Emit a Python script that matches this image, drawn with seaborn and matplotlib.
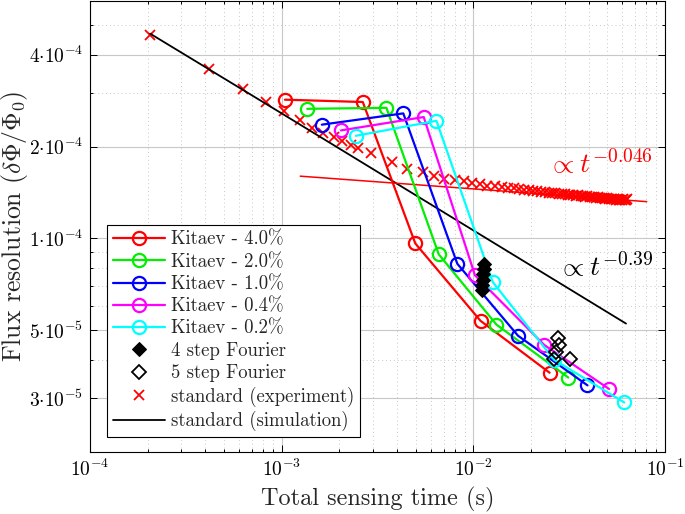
import matplotlib
matplotlib.use('Agg')
import matplotlib.pyplot as plt
import seaborn as sns
from matplotlib.ticker import FixedLocator, LogLocator, NullFormatter

# Kitaev runs: total sensing time (s) vs flux resolution
t_k40 = [1.04e-3, 2.65e-3, 4.98e-3, 1.09e-2, 2.50e-2]
f_k40 = [2.85e-4, 2.80e-4, 9.63e-5, 5.37e-5, 3.63e-5]
t_k20 = [1.36e-3, 3.52e-3, 6.60e-3, 1.32e-2, 3.13e-2]
f_k20 = [2.66e-4, 2.68e-4, 8.87e-5, 5.22e-5, 3.50e-5]
t_k10 = [1.62e-3, 4.31e-3, 8.25e-3, 1.71e-2, 3.94e-2]
f_k10 = [2.36e-4, 2.57e-4, 8.26e-5, 4.80e-5, 3.30e-5]
t_k04 = [2.04e-3, 5.51e-3, 1.02e-2, 2.34e-2, 5.11e-2]
f_k04 = [2.26e-4, 2.50e-4, 7.57e-5, 4.48e-5, 3.21e-5]
t_k02 = [2.44e-3, 6.42e-3, 1.26e-2, 2.64e-2, 6.13e-2]
f_k02 = [2.17e-4, 2.43e-4, 7.21e-5, 4.00e-5, 2.90e-5]
kitaev_labels = ['Kitaev - 4.0%', 'Kitaev - 2.0%', 'Kitaev - 1.0%',
                 'Kitaev - 0.4%', 'Kitaev - 0.2%']
kitaev_colors = ['#ff0000', '#00ee00', '#0000ff', '#ff00ff', '#00ffff']

# Fourier methods
t_four4 = [1.13e-2, 1.13e-2, 1.12e-2, 1.12e-2, 1.11e-2, 1.11e-2]
f_four4 = [8.26e-5, 7.95e-5, 7.66e-5, 7.32e-5, 7.05e-5, 6.79e-5]
t_four5 = [2.77e-2, 2.80e-2, 2.70e-2, 2.64e-2, 3.19e-2]
f_four5 = [4.72e-5, 4.48e-5, 4.25e-5, 4.03e-5, 4.03e-5]

# standard method, experiment
t_exp = [2.06e-4, 4.18e-4, 6.26e-4, 8.25e-4, 1.03e-3, 1.24e-3, 1.44e-3,
         1.65e-3, 1.88e-3, 2.07e-3, 2.29e-3, 2.51e-3, 2.92e-3, 3.75e-3,
         4.52e-3, 5.44e-3, 6.23e-3, 7.06e-3, 8.02e-3,
         0.0089, 0.0098, 0.0108, 0.0118, 0.0130, 0.0141, 0.0152, 0.0163, 0.0174, 0.0184,
         0.0195, 0.0205, 0.0216, 0.0226, 0.0237, 0.0247, 0.0258, 0.0268, 0.0279, 0.0289,
         0.0300, 0.0310, 0.0321, 0.0331, 0.0342, 0.0352, 0.0363, 0.0373, 0.0384, 0.0394,
         0.0405, 0.0415, 0.0426, 0.0436, 0.0447, 0.0457, 0.0468, 0.0478, 0.0489, 0.0499,
         0.0510, 0.0520, 0.0531, 0.0541, 0.0552, 0.0562, 0.0573, 0.0583, 0.0594, 0.0604,
         0.0615, 0.0625, 0.0636]
f_exp = [4.65e-4, 3.60e-4, 3.09e-4, 2.80e-4, 2.61e-4, 2.45e-4, 2.31e-4,
         2.21e-4, 2.15e-4, 2.08e-4, 2.03e-4, 1.98e-4, 1.90e-4, 1.78e-4,
         1.69e-4, 1.65e-4, 1.60e-4, 1.57e-4, 1.55e-4,
         1.54e-4, 1.52e-4, 1.51e-4, 1.49e-4, 1.48e-4, 1.47e-4, 1.46e-4, 1.46e-4, 1.45e-4, 1.44e-4,
         1.44e-4, 1.43e-4, 1.43e-4, 1.42e-4, 1.42e-4, 1.41e-4, 1.41e-4, 1.41e-4, 1.40e-4, 1.40e-4,
         1.40e-4, 1.39e-4, 1.39e-4, 1.39e-4, 1.38e-4, 1.39e-4, 1.38e-4, 1.38e-4, 1.37e-4, 1.38e-4,
         1.37e-4, 1.37e-4, 1.37e-4, 1.36e-4, 1.37e-4, 1.36e-4, 1.36e-4, 1.36e-4, 1.35e-4, 1.36e-4,
         1.35e-4, 1.35e-4, 1.35e-4, 1.35e-4, 1.34e-4, 1.35e-4, 1.34e-4, 1.34e-4, 1.34e-4, 1.35e-4,
         1.34e-4, 1.34e-4, 1.35e-4]

# standard method, simulation and power-law fit to experiment
t_sim = [2.06e-4, 1.0e-3, 6.26e-2]
f_sim = [4.69e-4, 2.57e-4, 5.26e-5]
t_fit = [1.25e-3, 8.03e-2]
f_fit = [1.60e-4, 1.32e-4]

x_ticks = [1e-4, 1e-3, 1e-2, 1e-1]
x_ticklabels = [r'$10^{-4}$', r'$10^{-3}$', r'$10^{-2}$', r'$10^{-1}$']
y_ticks = [3e-5, 5e-5, 1e-4, 2e-4, 4e-4]
y_ticklabels = [r'$3{\cdot}10^{-5}$', r'$5{\cdot}10^{-5}$', r'$1{\cdot}10^{-4}$',
                r'$2{\cdot}10^{-4}$', r'$4{\cdot}10^{-4}$']

sns.set_style('ticks')
plt.rcParams['font.family'] = ['cmr10', 'DejaVu Serif']
plt.rcParams['mathtext.fontset'] = 'cm'
plt.rcParams['axes.unicode_minus'] = False

fig = plt.figure(figsize=(6.85, 5.14), dpi=100)
ax = fig.add_axes([0.1314, 0.1212, 0.8394, 0.8768])

kitaev = [(t_k40, f_k40), (t_k20, f_k20), (t_k10, f_k10), (t_k04, f_k04), (t_k02, f_k02)]
for (t, f), lab, col in zip(kitaev, kitaev_labels, kitaev_colors):
    sns.lineplot(x=t, y=f, ax=ax, color=col, label=lab, sort=False, estimator=None,
                 linewidth=1.6, marker='o', markersize=9.5, markerfacecolor='none',
                 markeredgecolor=col, markeredgewidth=1.6, zorder=3)

sns.lineplot(x=t_four4, y=f_four4, ax=ax, label='4 step Fourier', sort=False,
             estimator=None, linestyle='none', marker='D', markersize=7,
             color='k', markerfacecolor='k', markeredgecolor='k', zorder=4)
sns.lineplot(x=t_four5, y=f_four5, ax=ax, label='5 step Fourier', sort=False,
             estimator=None, linestyle='none', marker='D', markersize=7,
             color='k', markerfacecolor='none', markeredgecolor='k',
             markeredgewidth=1.3, zorder=4)
sns.lineplot(x=t_exp, y=f_exp, ax=ax, label='standard (experiment)', sort=False,
             estimator=None, linestyle='none', marker='x', markersize=7,
             color='#ff0000', markeredgecolor='#ff0000', markeredgewidth=1.3, zorder=2)
sns.lineplot(x=t_sim, y=f_sim, ax=ax, label='standard (simulation)', sort=False,
             estimator=None, color='k', linewidth=1.3, zorder=2)
sns.lineplot(x=t_fit, y=f_fit, ax=ax, sort=False, estimator=None,
             color='#ff0000', linewidth=1.1, zorder=2)

ax.text(0.0245, 1.64e-4, r'$\propto t^{-0.046}$', color='#ff0000', fontsize=20)
ax.text(0.0275, 7.55e-5, r'$\propto t^{-0.39}$', color='k', fontsize=20)

ax.set_xscale('log')
ax.set_yscale('log')
ax.set_xlim(1e-4, 1e-1)
ax.set_ylim(2e-5, 6e-4)

ax.xaxis.set_major_locator(FixedLocator(x_ticks))
ax.set_xticklabels(x_ticklabels)
ax.xaxis.set_minor_locator(LogLocator(base=10, subs=range(2, 10)))
ax.xaxis.set_minor_formatter(NullFormatter())
ax.yaxis.set_major_locator(FixedLocator(y_ticks))
ax.set_yticklabels(y_ticklabels)
ax.yaxis.set_minor_locator(LogLocator(base=10, subs=range(1, 10)))
ax.yaxis.set_minor_formatter(NullFormatter())

ax.tick_params(which='both', direction='in', top=True, right=True,
               labelsize=14, colors='k', width=0.7)
ax.tick_params(which='major', length=5, pad=5)
ax.tick_params(which='minor', length=2.5)
ax.grid(which='major', color='#c8c8c8', linewidth=0.8, linestyle='-')
ax.grid(which='minor', color='#c8c8c8', linewidth=0.7, linestyle=(0, (1, 3)))
for s in ax.spines.values():
    s.set_color('k')
    s.set_linewidth(0.8)

ax.set_xlabel('Total sensing time (s)', fontsize=17.5, labelpad=5)
ax.set_ylabel(r'Flux resolution ($\delta\Phi/\Phi_0$)', fontsize=18.5)
ax.yaxis.set_label_coords(-0.104, 0.5)

leg = ax.legend(loc='lower left', bbox_to_anchor=(0.03, 0.033), fontsize=13.5,
                frameon=True, fancybox=False, edgecolor='k', framealpha=1,
                handlelength=2.8, labelspacing=0.23, borderpad=0.3,
                handletextpad=0.3, borderaxespad=0)
leg.get_frame().set_linewidth(0.8)

plt.savefig('out.png', dpi=100)
plt.close()
